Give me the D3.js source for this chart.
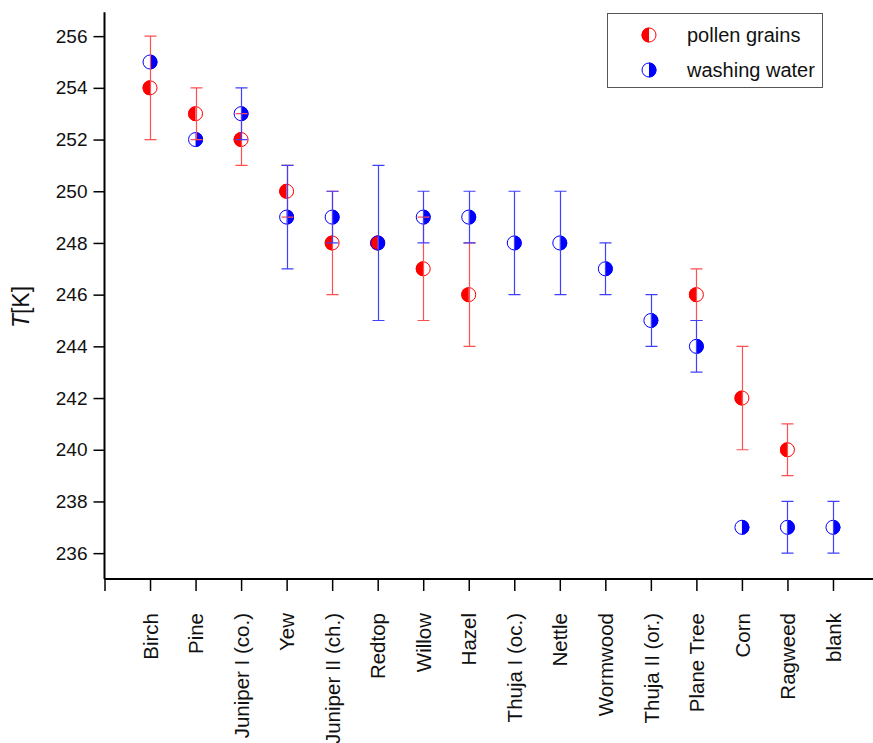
<!DOCTYPE html>
<html>
<head>
<meta charset="utf-8">
<script src="https://cdn.jsdelivr.net/npm/d3@7/dist/d3.min.js"></script>
<style>
  html, body { margin: 0; padding: 0; background: #fff; }
  svg { display: block; font-family: Arial, "Liberation Sans", sans-serif; }
</style>
</head>
<body>
<svg id="chart" width="873" height="743"></svg>
<script>
// Freezing temperatures per pollen species
const categories = ["Birch", "Pine", "Juniper I (co.)", "Yew", "Juniper II (ch.)", "Redtop",
  "Willow", "Hazel", "Thuja I (oc.)", "Nettle", "Wormwood", "Thuja II (or.)",
  "Plane Tree", "Corn", "Ragweed", "blank"];

// pollen grains (null = not measured)
const pollenT   = [254, 253, 252, 250, 248, 248, 247, 246, null, null, null, null, 246, 242, 240, null];
const pollenErr = [2,   1,   1,   1,   2,   0,   2,   2,   null, null, null, null, 1,   2,   1,   null];

// washing water
const waterT   = [255, 252, 253, 249, 249, 248, 249, 249, 248, 248, 247, 245, 244, 237, 237, 237];
const waterErr = [0,   0,   1,   2,   1,   3,   1,   1,   2,   2,   1,   1,   1,   0,   1,   1];

const yTicks = [236, 238, 240, 242, 244, 246, 248, 250, 252, 254, 256];

const series = [
  { name: "pollen grains", values: pollenT, errs: pollenErr, color: "#ff0000", bar: "#ff5050", side: "left" },
  { name: "washing water", values: waterT, errs: waterErr, color: "#0000ff", bar: "#4040ff", side: "right" }
];

const svg = d3.select("#chart");

const x = d3.scaleLinear().domain([0, categories.length + 1]).range([104.5, 104.5 + 17 * 45.53]);
const y = d3.scaleLinear().domain([235, 257]).range([579, 579 - 22 * 25.85]);

// axes
const yAxis = d3.axisLeft(y).tickValues(yTicks).tickSize(11).tickPadding(6).tickFormat(d3.format("d"));
const gy = svg.append("g").attr("transform", "translate(104.5,0)").call(yAxis);
gy.select(".domain").attr("stroke", "#000").attr("stroke-width", 2).attr("d", `M0,${y(257) + 2}V${y(235)}`);
gy.selectAll(".tick line").attr("stroke", "#000").attr("stroke-width", 1.5);
gy.selectAll(".tick text").attr("font-size", 19).attr("fill", "#111");

const xAxis = d3.axisBottom(x)
  .tickValues(d3.range(0, categories.length + 1))
  .tickSize(12)
  .tickFormat(i => i === 0 ? "" : categories[i - 1]);
const gx = svg.append("g").attr("transform", "translate(0,579)").call(xAxis);
gx.select(".domain").attr("stroke", "#000").attr("stroke-width", 2).attr("d", `M${x(0)},0H873`);
gx.selectAll(".tick line").attr("stroke", "#000").attr("stroke-width", 1.5);
gx.selectAll(".tick text")
  .attr("font-size", 20.5)
  .attr("fill", "#111")
  .attr("text-anchor", "end")
  .attr("transform", "rotate(-90)")
  .attr("x", -34)
  .attr("y", 0)
  .attr("dy", "0.35em");

// y-axis title
const yt = svg.append("text")
  .attr("transform", `translate(29,307) rotate(-90)`)
  .attr("text-anchor", "middle")
  .attr("font-size", 23)
  .attr("fill", "#111");
yt.append("tspan").attr("font-style", "italic").text("T");
yt.append("tspan").text("[K]");

const R = 7.5;
// half-filled circle marker
function halfMarker(g, cx, cy, color, side) {
  const sweep = side === "left" ? 0 : 1;
  g.append("path")
    .attr("d", `M${cx},${cy - R}A${R},${R} 0 0 ${sweep} ${cx},${cy + R}Z`)
    .attr("fill", color);
  g.append("circle")
    .attr("cx", cx).attr("cy", cy).attr("r", R - 0.5)
    .attr("fill", "none").attr("stroke", color).attr("stroke-width", 1);
}

const plot = svg.append("g");

// markers
series.forEach(s => {
  const g = plot.append("g");
  s.values.forEach((v, i) => {
    if (v == null) return;
    halfMarker(g, x(i + 1), y(v), s.color, s.side);
  });
});

// error bars
const cap = 6;
series.forEach(s => {
  const g = plot.append("g").attr("stroke", s.bar).attr("stroke-width", 1.2).attr("fill", "none");
  s.values.forEach((v, i) => {
    const e = s.errs[i];
    if (v == null || !e) return;
    const cx = Math.round(x(i + 1)) + 0.5;
    const top = y(v + e), bot = y(v - e);
    g.append("path").attr("d",
      `M${cx},${top}V${bot}M${cx - cap},${top}H${cx + cap}M${cx - cap},${bot}H${cx + cap}`);
  });
});

// legend
const lg = svg.append("g");
lg.append("rect").attr("x", 607.5).attr("y", 13.5).attr("width", 215).attr("height", 74)
  .attr("fill", "#fff").attr("stroke", "#555").attr("stroke-width", 1);
series.forEach((s, k) => {
  const ly = 35 + k * 35;
  halfMarker(lg, 649, ly, s.color, s.side);
  lg.append("text").attr("x", 687).attr("y", ly).attr("dy", "0.35em")
    .attr("font-size", 20).attr("fill", "#111").text(s.name);
});
</script>
</body>
</html>
